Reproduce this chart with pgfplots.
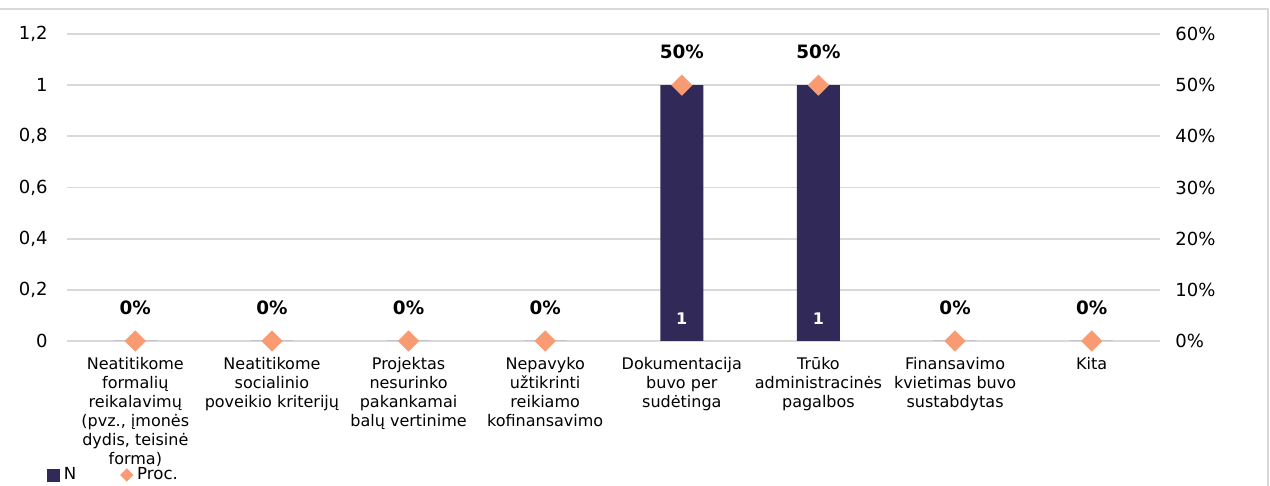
\documentclass[border=0pt]{standalone}
\usepackage{pgfplots}
\pgfplotsset{compat=1.18}
\usepackage{fontspec}
\setmainfont{DejaVu Sans}

\definecolor{barnavy}{HTML}{312A59}
\definecolor{markorange}{HTML}{F99B72}
\definecolor{gridgray}{HTML}{D9D9D9}

\begin{document}
\begin{tikzpicture}
\useasboundingbox (-33.5pt,-72.5pt) rectangle (601.5pt,170.5pt);
\pgfplotsset{
  base/.style={
    scale only axis, width=546.5pt, height=153.5pt,
    at={(0,0)}, anchor=south west,
    xmin=-0.5, xmax=7.5, ymin=0,
    clip=false,
    axis line style={draw=none},
    major tick length=0pt,
    tick label style={font=\fontsize{9}{11}\selectfont, text=black},
  }
}
% left axis: N (bars)
\begin{axis}[base,
  ymax=1.2, ytick={0,0.2,0.4,0.6,0.8,1,1.2},
  ymajorgrids, grid style={gridgray, line width=0.9pt},
  yticklabel style={inner sep=0pt, xshift=-9.5pt,
    /pgf/number format/.cd, fixed, precision=1, use comma, assume math mode=true},
  xtick={0,1,2,3,4,5,6,7},
  xticklabels={
    {Neatitikome\\formalių\\reikalavimų\\(pvz., įmonės\\dydis, teisinė\\forma)},
    {Neatitikome\\socialinio\\poveikio kriterijų},
    {Projektas\\nesurinko\\pakankamai\\balų vertinime},
    {Nepavyko\\užtikrinti\\reikiamo\\kofinansavimo},
    {Dokumentacija\\buvo per\\sudėtinga},
    {Trūko\\administracinės\\pagalbos},
    {Finansavimo\\kvietimas buvo\\sustabdytas},
    {Kita}},
  xticklabel style={align=center, anchor=north, inner sep=0pt, yshift=-8pt,
    font=\fontsize{8}{9.5}\selectfont},
]
\addplot[ybar, bar width=21.5pt, fill=barnavy, draw=none]
  coordinates {(0,0)(1,0)(2,0)(3,0)(4,1)(5,1)(6,0)(7,0)};
\addplot[only marks, mark=none, point meta=explicit symbolic,
  nodes near coords,
  nodes near coords style={anchor=center, yshift=11pt, text=white,
    font=\bfseries\fontsize{8}{10}\selectfont}]
  coordinates {(4,0)[1] (5,0)[1]};
\end{axis}

% right axis: Proc.
\begin{axis}[base,
  ymax=0.6, ytick={0,0.1,0.2,0.3,0.4,0.5,0.6},
  yticklabels={0\%,10\%,20\%,30\%,40\%,50\%,60\%},
  yticklabel pos=right,
  yticklabel style={inner sep=0pt, anchor=west, xshift=7.5pt},
  xtick=\empty,
  legend style={at={(axis description cs:-0.024,-0.4365)}, anchor=west,
    draw=none, fill=none, font=\fontsize{8.3}{9}\selectfont,
    legend columns=2,
    /tikz/every even column/.append style={column sep=20pt}},
]
\addlegendimage{legend image code/.code={\fill[barnavy] (0pt,-3pt) rectangle (6pt,3pt);}}
\addlegendentry{N}
\addlegendimage{legend image code/.code={\fill[markorange] (0pt,0pt) -- (3pt,3pt) -- (6pt,0pt) -- (3pt,-3pt) -- cycle;}}
\addlegendentry{Proc.}
\addplot[forget plot, only marks, color=markorange, mark=square*, mark size=3.54pt,
  mark options={rotate=45, fill=markorange, draw=markorange},
  point meta=explicit symbolic, nodes near coords,
  nodes near coords style={anchor=center, yshift=16.5pt, text=black,
    font=\bfseries\fontsize{9.2}{11}\selectfont}]
  coordinates {(0,0)[0\%] (1,0)[0\%] (2,0)[0\%] (3,0)[0\%]
               (4,0.5)[50\%] (5,0.5)[50\%] (6,0)[0\%] (7,0)[0\%]};
\end{axis}

\draw[gridgray, line width=1pt] (-33.5pt,166pt) -- (600.5pt,166pt) -- (600.5pt,-72.5pt);
\end{tikzpicture}
\end{document}
